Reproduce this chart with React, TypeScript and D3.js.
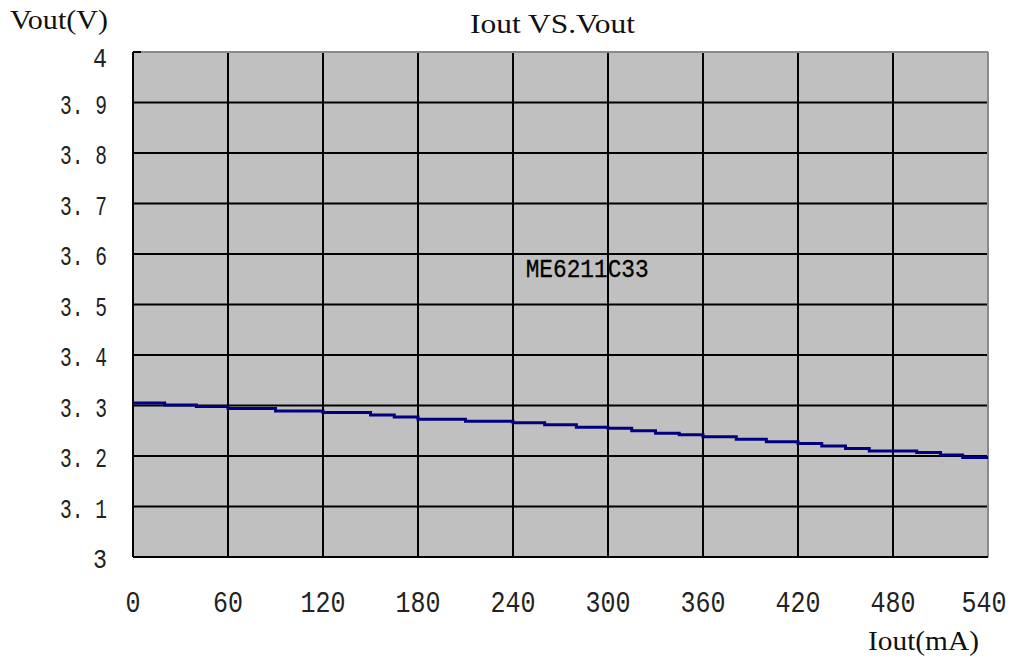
import React from "react";
import * as d3 from "d3";

// Step-wise measured output voltage vs output current
const currentMA = [0, 20, 40, 60, 90, 120, 150, 165, 180, 210, 240, 260, 280, 300, 315, 330, 345, 360, 381, 400, 420, 435, 450, 465, 495, 510, 524, 540];
const voltageV = [3.305, 3.301, 3.298, 3.294, 3.289, 3.286, 3.281, 3.277, 3.273, 3.269, 3.266, 3.262, 3.257, 3.255, 3.25, 3.245, 3.242, 3.238, 3.233, 3.228, 3.225, 3.22, 3.215, 3.21, 3.207, 3.202, 3.197, 3.197];

const xTicks = [0, 60, 120, 180, 240, 300, 360, 420, 480, 540];
const yTicks = [3, 3.1, 3.2, 3.3, 3.4, 3.5, 3.6, 3.7, 3.8, 3.9, 4];
const yTickLabels = ["3", "3. 1", "3. 2", "3. 3", "3. 4", "3. 5", "3. 6", "3. 7", "3. 8", "3. 9", "4"];

const titleText = "Iout VS.Vout";
const yAxisTitle = "Vout(V)";
const xAxisTitle = "Iout(mA)";
const seriesLabel = "ME6211C33";
const seriesLabelAt = { x: 248, y: 3.554 };

export default function App() {
  const W = 1012, H = 660;
  const left = 133, right = 988, top = 52, bottom = 557;
  const x = d3.scaleLinear().domain([0, 540]).range([left, right]);
  const y = d3.scaleLinear().domain([3, 4]).range([bottom, top]);
  const pts = currentMA.map((c, i) => [c, voltageV[i]] as [number, number]);
  const line = d3.line<[number, number]>().x(d => x(d[0])).y(d => y(d[1])).curve(d3.curveStepAfter);
  const serif = "'Liberation Serif', 'DejaVu Serif', serif";
  const mono = "'Liberation Mono', 'DejaVu Sans Mono', monospace";

  return (
    <svg width={W} height={H} style={{ position: "absolute", left: 0, top: 0, background: "#fff" }}>
      <rect x={left} y={top} width={right - left} height={bottom - top} fill="#c0c0c0" />
      {xTicks.slice(1, -1).map(t => (
        <line key={"gx" + t} x1={x(t)} x2={x(t)} y1={top} y2={bottom} stroke="#000" strokeWidth={2} />
      ))}
      {yTicks.slice(1, -1).map(t => (
        <line key={"gy" + t} x1={left} x2={right} y1={y(t)} y2={y(t)} stroke="#000" strokeWidth={2} />
      ))}
      {/* frame */}
      <line x1={left} x2={right} y1={top} y2={top} stroke="#8a8a8a" strokeWidth={2} />
      <line x1={right} x2={right} y1={top} y2={bottom} stroke="#8a8a8a" strokeWidth={2} />
      <line x1={left} x2={left} y1={top} y2={bottom} stroke="#000" strokeWidth={2} />
      <line x1={left} x2={right} y1={bottom} y2={bottom} stroke="#000" strokeWidth={2} />
      <line x1={left} x2={left + 8} y1={top} y2={top} stroke="#000" strokeWidth={2} />

      <path d={line(pts) || ""} fill="none" stroke="#000080" strokeWidth={3} />

      <text x={x(seriesLabelAt.x)} y={y(seriesLabelAt.y)} fontFamily={mono} fontSize={25}
        textLength={123} lengthAdjust="spacingAndGlyphs" fill="#000" stroke="#000" strokeWidth={0.3}>{seriesLabel}</text>

      {yTicks.map((t, i) => (
        <text key={"yl" + t} x={107} y={y(t) + (t === 4 ? 15 : 11)} textAnchor="end" fontFamily={mono} fontSize={28}
          textLength={yTickLabels[i].length > 1 ? 47 : 14} lengthAdjust="spacingAndGlyphs" fill="#222">{yTickLabels[i]}</text>
      ))}
      {xTicks.map(t => (
        <text key={"xl" + t} transform={`translate(${x(t) + (t === 540 ? -4 : 0)},612) scale(1,1.2)`} textAnchor="middle"
          fontFamily={mono} fontSize={25} fill="#222">{t}</text>
      ))}

      <text x={470} y={33} fontFamily={serif} fontSize={28} textLength={165} lengthAdjust="spacingAndGlyphs" fill="#111">{titleText}</text>
      <text x={10} y={29} fontFamily={serif} fontSize={28} textLength={98} lengthAdjust="spacingAndGlyphs" fill="#111">{yAxisTitle}</text>
      <text x={868} y={650} fontFamily={serif} fontSize={28} textLength={111} lengthAdjust="spacingAndGlyphs" fill="#111">{xAxisTitle}</text>
    </svg>
  );
}
